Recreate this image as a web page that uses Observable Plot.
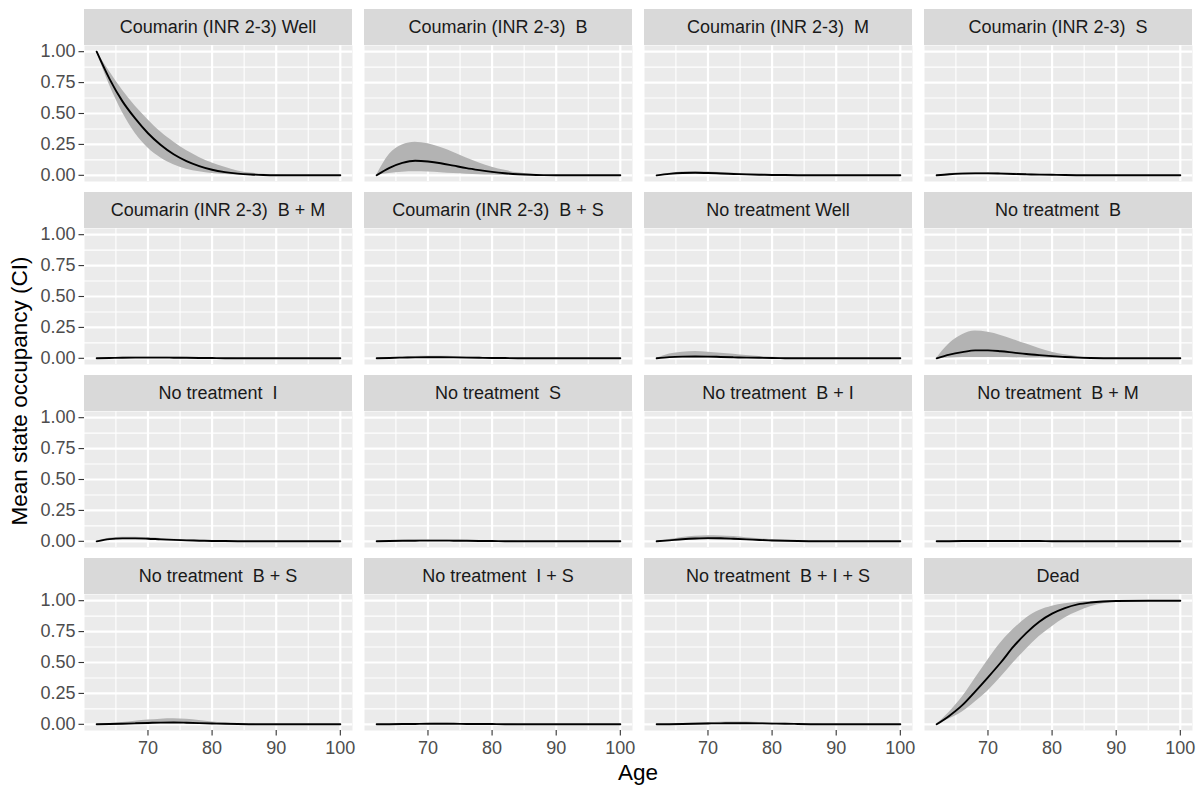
<!DOCTYPE html>
<html><head><meta charset="utf-8">
<script src="https://cdn.jsdelivr.net/npm/d3@7"></script>
<script src="https://cdn.jsdelivr.net/npm/@observablehq/plot@0.6"></script>
<style>
body{margin:0;background:#fff;font-family:"Liberation Sans",Arial,sans-serif;}
#chart{position:relative;width:1203px;height:789px;overflow:hidden;}
.strip{position:absolute;height:36px;width:268px;background:#D9D9D9;color:#1A1A1A;font-size:18px;line-height:37px;text-align:center;white-space:pre;}
.panel{position:absolute;}
.atitle{position:absolute;color:#000;font-size:22.5px;white-space:pre;}
</style></head><body><div id="chart"></div>
<script>
const states = [
  "Coumarin (INR 2-3) Well", "Coumarin (INR 2-3)  B", "Coumarin (INR 2-3)  M", "Coumarin (INR 2-3)  S",
  "Coumarin (INR 2-3)  B + M", "Coumarin (INR 2-3)  B + S", "No treatment Well", "No treatment  B",
  "No treatment  I", "No treatment  S", "No treatment  B + I", "No treatment  B + M",
  "No treatment  B + S", "No treatment  I + S", "No treatment  B + I + S", "Dead"
];
const ages = [62, 64, 66, 68, 70, 72, 74, 76, 78, 80, 82, 84, 86, 88, 90, 95, 100];

const meanValues = [
  [1, .78, .60, .46, .34, .245, .17, .115, .075, .045, .026, .014, .007, .003, .001, 0, 0],
  [0, .06, .10, .118, .112, .098, .078, .058, .042, .028, .017, .009, .004, .0015, .0005, 0, 0],
  [0, .012, .019, .021, .019, .015, .011, .008, .005, .003, .002, .001, 0, 0, 0, 0, 0],
  [0, .009, .014, .016, .016, .014, .011, .008, .006, .004, .002, .001, 0, 0, 0, 0, 0],
  [0, .003, .005, .006, .006, .006, .005, .004, .003, .002, .001, .001, 0, 0, 0, 0, 0],
  [0, .003, .006, .008, .009, .009, .008, .006, .004, .003, .002, .001, 0, 0, 0, 0, 0],
  [0, .01, .014, .015, .014, .011, .008, .006, .004, .002, .001, 0, 0, 0, 0, 0, 0],
  [0, .03, .05, .064, .064, .057, .046, .035, .026, .018, .011, .006, .003, .001, 0, 0, 0],
  [0, .018, .024, .024, .021, .016, .012, .008, .005, .003, .002, .001, 0, 0, 0, 0, 0],
  [0, .002, .004, .005, .006, .006, .005, .004, .003, .002, .001, 0, 0, 0, 0, 0, 0],
  [0, .008, .017, .023, .026, .025, .021, .016, .011, .007, .004, .002, .001, 0, 0, 0, 0],
  [0, .001, .002, .003, .003, .003, .003, .002, .002, .001, .001, 0, 0, 0, 0, 0, 0],
  [0, .002, .005, .008, .011, .014, .015, .013, .010, .007, .004, .002, .001, 0, 0, 0, 0],
  [0, .001, .002, .003, .004, .004, .004, .003, .003, .002, .001, .001, 0, 0, 0, 0, 0],
  [0, .001, .003, .005, .007, .008, .009, .009, .008, .006, .004, .003, .001, 0, 0, 0, 0],
  [0, .07, .155, .265, .38, .50, .63, .74, .83, .895, .94, .97, .985, .993, .997, 1, 1]
];
const lowerValues = [
  [1, .73, .51, .34, .22, .14, .085, .05, .028, .015, .007, .003, .001, 0, 0, 0, 0],
  [0, .015, .025, .028, .026, .02, .014, .009, .005, .003, .001, 0, 0, 0, 0, 0, 0],
  [0, .008, .012, .013, .012, .009, .006, .004, .003, .002, .001, 0, 0, 0, 0, 0, 0],
  [0, .006, .009, .011, .011, .009, .007, .005, .004, .002, .001, 0, 0, 0, 0, 0, 0],
  [0, .001, .002, .003, .003, .003, .002, .002, .001, .001, 0, 0, 0, 0, 0, 0, 0],
  [0, .001, .003, .004, .004, .004, .004, .003, .002, .001, .001, 0, 0, 0, 0, 0, 0],
  [0, .002, .003, .003, .003, .002, .002, .001, .001, 0, 0, 0, 0, 0, 0, 0, 0],
  [0, .003, .006, .007, .007, .006, .004, .003, .002, .001, 0, 0, 0, 0, 0, 0, 0],
  [0, .012, .016, .016, .014, .01, .007, .005, .003, .002, .001, 0, 0, 0, 0, 0, 0],
  [0, .001, .002, .003, .003, .003, .003, .002, .002, .001, 0, 0, 0, 0, 0, 0, 0],
  [0, .003, .007, .01, .011, .011, .009, .007, .005, .003, .002, .001, 0, 0, 0, 0, 0],
  [0, 0, .001, .001, .001, .001, .001, .001, .001, 0, 0, 0, 0, 0, 0, 0, 0],
  [0, .001, .002, .003, .004, .005, .005, .004, .003, .002, .001, .001, 0, 0, 0, 0, 0],
  [0, 0, .001, .001, .002, .002, .002, .001, .001, .001, 0, 0, 0, 0, 0, 0, 0],
  [0, 0, .001, .002, .003, .003, .004, .004, .003, .002, .002, .001, 0, 0, 0, 0, 0],
  [0, .045, .10, .18, .27, .38, .50, .61, .71, .79, .86, .91, .95, .975, .99, .999, 1]
];
const upperValues = [
  [1, .84, .69, .56, .45, .35, .27, .20, .145, .10, .065, .035, .018, .008, .003, 0, 0],
  [0, .17, .245, .268, .255, .225, .185, .14, .10, .066, .04, .02, .008, .003, .001, 0, 0],
  [0, .017, .026, .029, .027, .022, .016, .012, .008, .005, .003, .001, 0, 0, 0, 0, 0],
  [0, .013, .02, .023, .023, .02, .016, .012, .009, .006, .003, .002, .001, 0, 0, 0, 0],
  [0, .005, .008, .01, .011, .01, .009, .007, .005, .003, .002, .001, 0, 0, 0, 0, 0],
  [0, .006, .011, .014, .016, .016, .014, .011, .008, .005, .003, .001, 0, 0, 0, 0, 0],
  [0, .035, .05, .055, .05, .042, .032, .022, .014, .008, .004, .002, 0, 0, 0, 0, 0],
  [0, .12, .19, .22, .21, .185, .15, .115, .08, .05, .028, .014, .006, .002, .001, 0, 0],
  [0, .024, .032, .033, .029, .023, .017, .012, .008, .005, .003, .001, 0, 0, 0, 0, 0],
  [0, .004, .007, .009, .01, .01, .009, .007, .005, .003, .002, .001, 0, 0, 0, 0, 0],
  [0, .015, .03, .04, .045, .044, .038, .029, .02, .013, .008, .004, .002, .001, 0, 0, 0],
  [0, .002, .004, .005, .006, .006, .005, .004, .003, .002, .001, 0, 0, 0, 0, 0, 0],
  [0, .006, .014, .024, .034, .042, .045, .040, .030, .019, .011, .005, .002, .001, 0, 0, 0],
  [0, .002, .004, .006, .007, .008, .007, .006, .005, .003, .002, .001, 0, 0, 0, 0, 0],
  [0, .002, .006, .01, .014, .017, .018, .018, .015, .011, .008, .005, .002, .001, 0, 0, 0],
  [0, .10, .22, .37, .52, .66, .77, .86, .92, .955, .975, .988, .994, .998, .999, 1, 1]
];

const xTicks = [70, 80, 90, 100];
const xMinor = [65, 75, 85, 95];
const yTicks = [0, 0.25, 0.5, 0.75, 1];
const yMinor = [0.125, 0.375, 0.625, 0.875];

const chart = document.getElementById("chart");
const ncol = 4;
const font = "Liberation Sans, Arial, sans-serif";

states.forEach((name, i) => {
  const r = Math.floor(i / ncol), c = i % ncol;
  const left = 84 + c * 280;
  const top = 9 + r * 183;
  const strip = document.createElement("div");
  strip.className = "strip";
  strip.style.left = left + "px";
  strip.style.top = top + "px";
  strip.textContent = name;
  chart.appendChild(strip);

  const data = ages.map((a, k) => ({age: a, mean: meanValues[i][k], lo: lowerValues[i][k], hi: upperValues[i][k]}));
  const mL = c === 0 ? 84 : 0;
  const mB = r === 3 ? 36 : 0;
  const svg = Plot.plot({
    width: 268 + mL, height: 136 + mB,
    marginLeft: mL, marginRight: 0, marginTop: 0, marginBottom: mB,
    style: {background: "transparent", fontFamily: font, fontSize: "18px", overflow: "visible"},
    x: {domain: [60.1, 101.9], axis: null},
    y: {domain: [-0.05, 1.05], axis: null},
    marks: [
      Plot.frame({fill: "#EBEBEB", stroke: null}),
      Plot.ruleY(yMinor, {stroke: "white", strokeWidth: 1.1}),
      Plot.ruleX(xMinor, {stroke: "white", strokeWidth: 1.1}),
      Plot.ruleY(yTicks, {stroke: "white", strokeWidth: 2.2}),
      Plot.ruleX(xTicks, {stroke: "white", strokeWidth: 2.2}),
      Plot.areaY(data, {x: "age", y1: "lo", y2: "hi", fill: "#B3B3B3", curve: "monotone-x"}),
      Plot.lineY(data, {x: "age", y: "mean", stroke: "black", strokeWidth: 1.9, curve: "monotone-x"}),
      c === 0 ? Plot.axisY(yTicks, {label: null, tickSize: 5.5, tickPadding: 3.5, tickFormat: d3.format(".2f"), stroke: "#333333", fill: "#4D4D4D", fontSize: 18, strokeWidth: 1.1}) : null,
      r === 3 ? Plot.axisX(xTicks, {label: null, tickSize: 5.5, tickPadding: 5, tickFormat: d => String(d), stroke: "#333333", fill: "#4D4D4D", fontSize: 18, strokeWidth: 1.1}) : null
    ]
  });
  svg.classList.add("panel");
  svg.style.position = "absolute";
  svg.style.left = (left - mL) + "px";
  svg.style.top = (top + 36) + "px";
  chart.appendChild(svg);
});

const xt = document.createElement("div");
xt.className = "atitle";
xt.textContent = "Age";
xt.style.left = "638px";
xt.style.top = "773px";
xt.style.transform = "translate(-50%,-50%)";
chart.appendChild(xt);

const yt = document.createElement("div");
yt.className = "atitle";
yt.textContent = "Mean state occupancy (CI)";
yt.style.left = "20px";
yt.style.top = "391px";
yt.style.transform = "translate(-50%,-50%) rotate(-90deg)";
chart.appendChild(yt);
</script></body></html>
